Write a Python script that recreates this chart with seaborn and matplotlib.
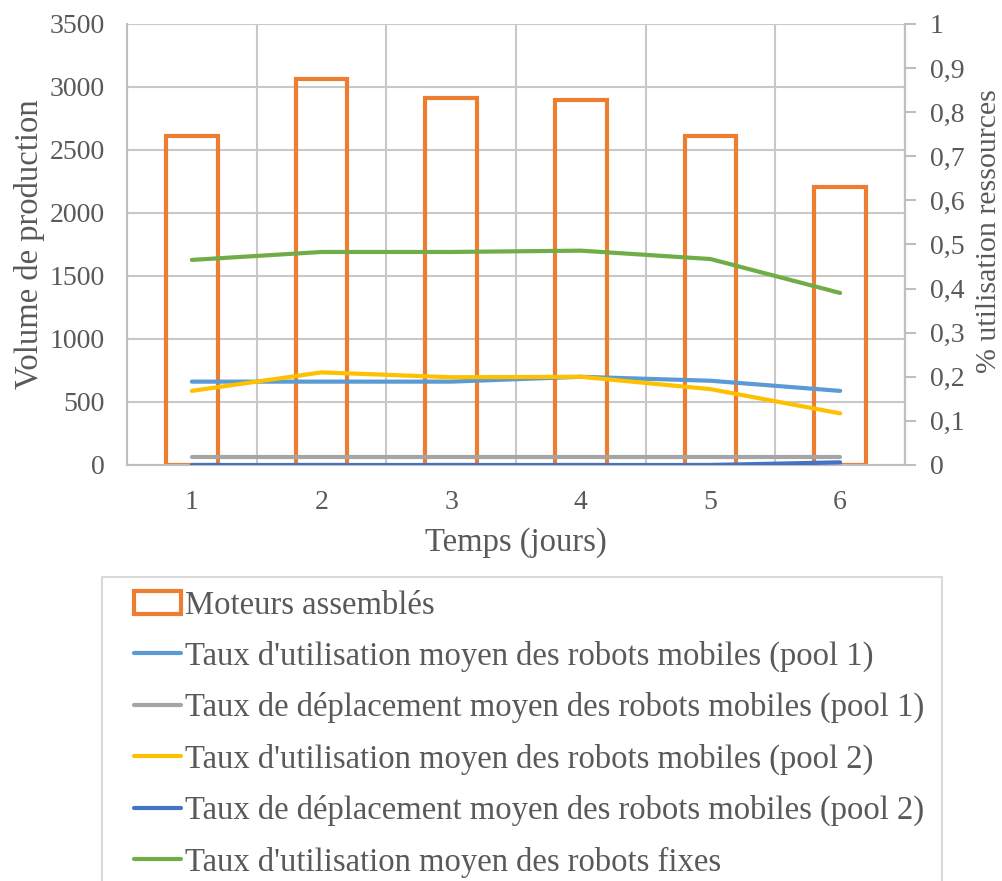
import numpy as np
import pandas as pd
import seaborn as sns
import matplotlib.pyplot as plt
from matplotlib.ticker import FuncFormatter, MultipleLocator
from matplotlib.patches import Patch
from matplotlib.lines import Line2D
from matplotlib.legend_handler import HandlerPatch, HandlerLine2D

# Donnees
jours = ["1", "2", "3", "4", "5", "6"]
moteurs = [2610, 3060, 2910, 2900, 2610, 2210]
util_pool1 = [0.189, 0.189, 0.189, 0.200, 0.191, 0.168]
depl_pool1 = [0.017, 0.017, 0.017, 0.017, 0.017, 0.017]
util_pool2 = [0.168, 0.210, 0.199, 0.200, 0.172, 0.117]
depl_pool2 = [0.0, 0.0, 0.0, 0.0, 0.0, 0.006]
util_fixes = [0.465, 0.483, 0.483, 0.486, 0.467, 0.390]

noms_series = [
    "Taux d'utilisation moyen des robots mobiles (pool 1)",
    "Taux de déplacement moyen des robots mobiles (pool 1)",
    "Taux d'utilisation moyen des robots mobiles (pool 2)",
    "Taux de déplacement moyen des robots mobiles (pool 2)",
    "Taux d'utilisation moyen des robots fixes",
]
couleurs = ["#5B9BD5", "#A5A5A5", "#FFC000", "#4472C4", "#70AD47"]
orange = "#ED7D31"
text_color = "#595959"
grid_color = "#C8C8C8"
label_size = 23.5
tick_size = 20

sns.set_style("white")
plt.rcParams['font.family'] = ['Liberation Serif', 'DejaVu Serif']
plt.rcParams['text.color'] = text_color

fig = plt.figure(figsize=(10.03, 8.81), dpi=100)
ax = fig.add_axes([0.1266, 0.4722, 0.7757, 0.5006])

# Barres (contour seulement)
sns.barplot(x=jours, y=moteurs, ax=ax, width=0.4, fill=False, color=orange, linewidth=3)
for p in ax.patches:
    p.set_edgecolor(orange)
    p.set_facecolor("none")
    p.set_linewidth(3)

ax.set_xlim(-0.5, 5.5)
ax.set_ylim(0, 3500)
ax.yaxis.set_major_locator(MultipleLocator(500))
ax.set_xticks(range(len(jours)))
ax.set_xticklabels(jours)
ax.set_xticks(np.arange(-0.5, 6, 1), minor=True)
ax.grid(True, which="major", axis="y", color=grid_color, lw=1.5)
ax.grid(True, which="minor", axis="x", color=grid_color, lw=1.5)
ax.set_axisbelow(True)
ax.tick_params(axis="x", which="both", length=0, pad=18, labelsize=tick_size, labelcolor=text_color)
ax.tick_params(axis="y", length=0, pad=16, labelsize=tick_size, labelcolor=text_color)
ax.set_xlabel("Temps (jours)", fontsize=label_size, color=text_color, labelpad=9)
ax.set_ylabel("Volume de production", fontsize=label_size, color=text_color, labelpad=3)
ax.spines["top"].set_visible(False)
for side in ["left", "bottom", "right"]:
    ax.spines[side].set_color("#BFBFBF")
    ax.spines[side].set_linewidth(1.5)

# Axe secondaire
ax2 = ax.twinx()
x = np.arange(len(jours))
series = [util_pool1, depl_pool1, util_pool2, depl_pool2, util_fixes]
for nom, vals, c in zip(noms_series, series, couleurs):
    sns.lineplot(x=x, y=vals, ax=ax2, color=c, lw=3, legend=False)
ax2.set_ylim(0, 1)
ax2.yaxis.set_major_locator(MultipleLocator(0.1))
ax2.yaxis.set_major_formatter(FuncFormatter(lambda v, pos: ("%g" % round(v, 1)).replace(".", ",")))
ax2.tick_params(axis="y", length=8, width=1.5, color="#BFBFBF", pad=10, labelsize=tick_size, labelcolor=text_color)
ax2.set_ylabel("% utilisation ressources", fontsize=21.5, color=text_color)
ax2.yaxis.set_label_coords(1.091, 0.53)
for side in ["top", "left", "bottom"]:
    ax2.spines[side].set_visible(False)
ax2.spines["right"].set_color("#BFBFBF")
ax2.spines["right"].set_linewidth(1.5)

# Legende sous le graphique
handles = [Patch(facecolor="none", edgecolor=orange, linewidth=3)]
handles += [Line2D([0], [0], color=c, lw=3) for c in couleurs]
labels = ["Moteurs assemblés"] + noms_series
pad = 0.58
leg = fig.legend(handles, labels, loc="upper left",
                 bbox_to_anchor=(0.1017, 0.0, 0.8375, 1 - 577 / 881), mode="expand",
                 fontsize=label_size, frameon=True, fancybox=False, framealpha=1,
                 edgecolor="#D9D9D9", handlelength=2.02, handletextpad=0.12,
                 labelspacing=0.62, borderpad=0.4, borderaxespad=0,
                 handler_map={Patch: HandlerPatch(xpad=pad), Line2D: HandlerLine2D(xpad=pad)})
leg.get_frame().set_linewidth(1.5)
for t in leg.get_texts():
    t.set_color(text_color)

fig.savefig("out.png", dpi=100)
